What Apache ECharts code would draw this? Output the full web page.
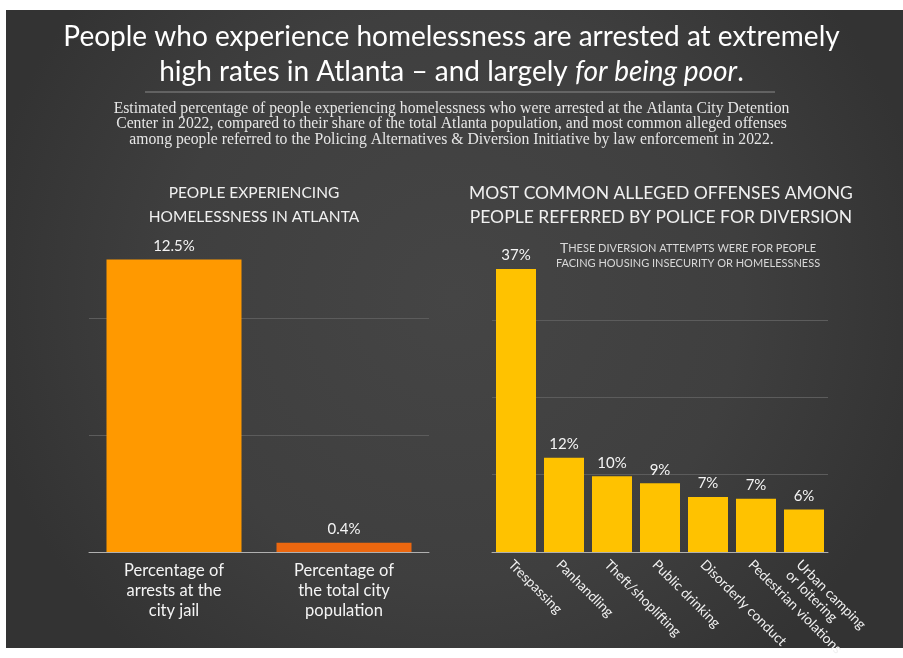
<!DOCTYPE html>
<html><head><meta charset="utf-8">
<script src="https://cdn.jsdelivr.net/npm/echarts@6/dist/echarts.min.js"></script>
<style>html,body{margin:0;padding:0;background:#fff;} #c{width:903px;height:658px;}</style>
</head><body><div id="c"></div>
<script>
// ---- data ----
const leftCategories = ['Percentage of\narrests at the\ncity jail', 'Percentage of\nthe total city\npopulation'];
const leftValues = [12.5, 0.4];
const leftColors = ['#FF9900', '#EC670F'];

const rightCategories = ['Trespassing', 'Panhandling', 'Theft/shoplifting', 'Public drinking',
  'Disorderly conduct', 'Pedestrian violations', 'Urban camping\nor loitering'];
const rightValues = [36.6, 12.2, 9.8, 8.9, 7.1, 6.9, 5.5];

const titleText = 'People who experience homelessness are arrested at extremely\nhigh rates in Atlanta \u2013 and largely {i|for being poor}.';
const subtitleText = 'Estimated percentage of people experiencing homelessness who were arrested at the Atlanta City Detention\nCenter in 2022, compared to their share of the total Atlanta population, and most common alleged offenses\namong people referred to the Policing Alternatives & Diversion Initiative by law enforcement in 2022.';
const leftPanelTitle = 'PEOPLE EXPERIENCING\nHOMELESSNESS IN ATLANTA';
const rightPanelTitle = 'MOST COMMON ALLEGED OFFENSES AMONG\nPEOPLE REFERRED BY POLICE FOR DIVERSION';

const SANS = 'Lato';
const chart = echarts.init(document.getElementById('c'), null, {renderer: 'canvas'});

const option = {
  backgroundColor: '#ffffff',
  animation: false,
  graphic: [
    {
      type: 'rect', z: -10, silent: true,
      shape: {x: 6, y: 10, width: 897, height: 638},
      style: {
        fill: {
          type: 'radial', x: 0.5, y: 0.45, r: 0.75,
          colorStops: [{offset: 0, color: '#454545'}, {offset: 0.6, color: '#3f3f3f'}, {offset: 1, color: '#333333'}]
        }
      }
    },
    {
      type: 'line', silent: true,
      shape: {x1: 145, y1: 92, x2: 775, y2: 92},
      style: {stroke: '#8a8a8a', lineWidth: 1}
    },
    {
      type: 'text', silent: true, x: 688, y: 241,
      style: {
        text: '{b|T}{s|HESE DIVERSION ATTEMPTS WERE FOR PEOPLE}\n{s|FACING HOUSING INSECURITY OR HOMELESSNESS}',
        align: 'center', verticalAlign: 'top',
        rich: {
          b: {fontFamily: SANS, fontSize: 14, fill: '#d8d8d8', lineHeight: 15, align: 'center'},
          s: {fontFamily: SANS, fontSize: 11, fill: '#d8d8d8', lineHeight: 15, align: 'center'}
        }
      }
    }
  ],
  title: [
    {
      text: titleText, left: 451.5, top: 19, textAlign: 'center', padding: 0,
      textStyle: {
        color: '#ffffff', fontFamily: SANS, fontSize: 28, fontWeight: 'normal', lineHeight: 35, align: 'center',
        rich: {i: {color: '#ffffff', fontFamily: SANS, fontSize: 28, fontStyle: 'italic', lineHeight: 35}}
      }
    },
    {
      text: subtitleText, left: 451.5, top: 101, textAlign: 'center', padding: 0,
      textStyle: {color: '#e6e6e6', fontFamily: 'Liberation Serif', fontSize: 15.7, fontWeight: 'normal', lineHeight: 15.5, align: 'center'}
    },
    {
      text: leftPanelTitle, left: 254, top: 181, textAlign: 'center', padding: 0,
      textStyle: {color: '#f0f0f0', fontFamily: SANS, fontSize: 15.5, fontWeight: 'normal', lineHeight: 24, align: 'center'}
    },
    {
      text: rightPanelTitle, left: 661, top: 181, textAlign: 'center', padding: 0,
      textStyle: {color: '#f0f0f0', fontFamily: SANS, fontSize: 17.5, fontWeight: 'normal', lineHeight: 24, align: 'center'}
    }
  ],
  grid: [
    {left: 89, width: 340, top: 552 - 13 * 23.4, height: 13 * 23.4, containLabel: false, outerBoundsMode: 'none'},
    {left: 492, width: 336, top: 552 - 38 * 7.73, height: 38 * 7.73, containLabel: false, outerBoundsMode: 'none'}
  ],
  xAxis: [
    {
      type: 'category', gridIndex: 0, data: leftCategories,
      axisLine: {show: true, lineStyle: {color: '#b0b0b0', width: 1}},
      axisTick: {show: false},
      axisLabel: {color: '#f4f4f4', fontFamily: SANS, fontSize: 16.5, lineHeight: 20, margin: 9, interval: 0}
    },
    {
      type: 'category', gridIndex: 1, data: rightCategories,
      axisLine: {show: true, lineStyle: {color: '#b0b0b0', width: 1}},
      axisTick: {show: false},
      axisLabel: {color: '#f0f0f0', fontFamily: SANS, fontSize: 13.8, lineHeight: 15, margin: 5, rotate: -45,
        verticalAlign: 'top', interval: 0, hideOverlap: false}
    }
  ],
  yAxis: [
    {
      type: 'value', gridIndex: 0, min: 0, max: 13, interval: 5,
      axisLine: {show: false}, axisTick: {show: false}, axisLabel: {show: false},
      splitLine: {show: true, showMaxLine: false, showMinLine: false, lineStyle: {color: '#5c5c5c', width: 1}}
    },
    {
      type: 'value', gridIndex: 1, min: 0, max: 38, interval: 10,
      axisLine: {show: false}, axisTick: {show: false}, axisLabel: {show: false},
      splitLine: {show: true, showMaxLine: false, showMinLine: false, lineStyle: {color: '#5c5c5c', width: 1}}
    }
  ],
  series: [
    {
      type: 'bar', xAxisIndex: 0, yAxisIndex: 0, barWidth: 135,
      data: leftValues.map((v, i) => ({value: v, itemStyle: {color: leftColors[i]}})),
      label: {show: true, position: 'top', distance: 6, color: '#f4f4f4', fontFamily: SANS, fontSize: 15,
        formatter: p => p.value + '%'}
    },
    {
      type: 'bar', xAxisIndex: 1, yAxisIndex: 1, barWidth: 40,
      data: rightValues,
      itemStyle: {color: '#FFC200'},
      label: {show: true, position: 'top', distance: 6, color: '#f4f4f4', fontFamily: SANS, fontSize: 15,
        formatter: p => Math.round(p.value) + '%'}
    }
  ]
};
chart.setOption(option);
</script>
</body></html>
